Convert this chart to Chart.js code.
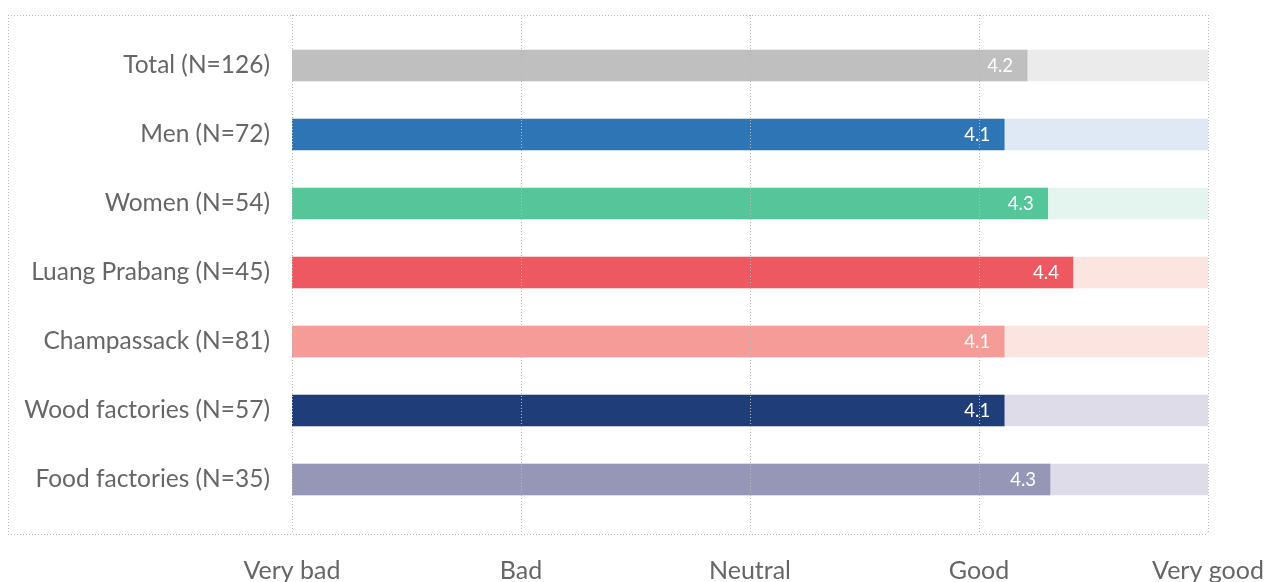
<!DOCTYPE html>
<html>
<head>
<meta charset="utf-8">
<script src="https://cdn.jsdelivr.net/npm/chart.js@4/dist/chart.umd.min.js"></script>
<style>
  html, body { margin: 0; padding: 0; background: #ffffff; }
  #wrap { width: 1265px; height: 582px; position: relative; }
</style>
</head>
<body>
<div id="wrap"><canvas id="c" width="1265" height="582"></canvas></div>
<script>
const categories = ["Total (N=126)", "Men (N=72)", "Women (N=54)", "Luang Prabang (N=45)", "Champassack (N=81)", "Wood factories (N=57)", "Food factories (N=35)"];
const scores = [4.21, 4.11, 4.30, 4.41, 4.11, 4.11, 4.31];
const scaleMax = [5, 5, 5, 5, 5, 5, 5];
const tickLabels = {1: "Very bad", 2: "Bad", 3: "Neutral", 4: "Good", 5: "Very good"};
const barColors = ["#BFBFBF", "#2E75B6", "#55C69A", "#EE5860", "#F59C98", "#1F3D78", "#9696B6"];
const bgColors = ["#EBEBEB", "#DFE9F5", "#E3F5EE", "#FCE4E0", "#FCE4E0", "#DEDCE8", "#DEDCE8"];

const FONT = "Lato, 'Open Sans', sans-serif";

const overlay = {
  id: 'overlay',
  afterDatasetsDraw(chart) {
    const ctx = chart.ctx;
    const xs = chart.scales.x;
    const top = 15, bottom = 534, left = 8;
    const right = xs.getPixelForValue(5);
    ctx.save();
    ctx.strokeStyle = '#B8B8B8';
    ctx.lineWidth = 1;
    ctx.setLineDash([1, 2]);
    ctx.beginPath();
    ctx.moveTo(left, top + 0.5); ctx.lineTo(right, top + 0.5);
    ctx.moveTo(left, bottom + 0.5); ctx.lineTo(right, bottom + 0.5);
    ctx.moveTo(left + 0.5, top); ctx.lineTo(left + 0.5, bottom);
    ctx.stroke();
    for (let v = 1; v <= 5; v++) {
      const x = Math.round(xs.getPixelForValue(v)) + 0.5;
      ctx.beginPath();
      ctx.moveTo(x, top); ctx.lineTo(x, bottom);
      ctx.stroke();
    }
    ctx.setLineDash([]);
    const meta = chart.getDatasetMeta(0);
    ctx.fillStyle = '#FFFFFF';
    ctx.font = "18.5px " + FONT;
    ctx.textAlign = 'right';
    ctx.textBaseline = 'middle';
    meta.data.forEach((bar, i) => {
      ctx.fillText(scores[i].toFixed(1), bar.x - 14, bar.y + 1);
    });
    ctx.restore();
  }
};

new Chart(document.getElementById('c'), {
  type: 'bar',
  data: {
    labels: categories,
    datasets: [
      { data: scores, backgroundColor: barColors, barThickness: 31, grouped: false },
      { data: scaleMax, backgroundColor: bgColors, barThickness: 31, grouped: false }
    ]
  },
  options: {
    indexAxis: 'y',
    responsive: false,
    animation: false,
    devicePixelRatio: 1,
    layout: { padding: { top: 31, right: 57, left: 0, bottom: 0 } },
    plugins: { legend: { display: false }, tooltip: { enabled: false } },
    scales: {
      x: {
        min: 1, max: 5,
        grid: { display: false, drawTicks: false },
        border: { display: false },
        ticks: {
          stepSize: 1,
          padding: 42,
          maxRotation: 0,
          color: '#666666',
          font: { family: FONT, size: 25 },
          callback: (v) => tickLabels[v] || ''
        },
        afterFit: (s) => { s.height = 68; s.paddingLeft = 0; s.paddingRight = 0; }
      },
      y: {
        grid: { display: false, drawTicks: false },
        border: { display: false },
        ticks: {
          padding: 22,
          color: '#666666',
          font: { family: FONT, size: 24.5 }
        },
        afterFit: (s) => { s.width = 292; s.paddingTop = 0; s.paddingBottom = 0; }
      }
    }
  },
  plugins: [overlay]
});
</script>
</body>
</html>
